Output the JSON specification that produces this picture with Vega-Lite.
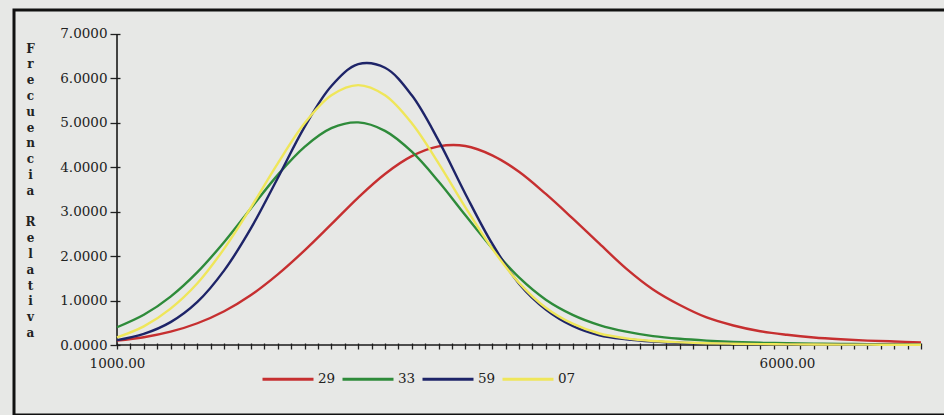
{
  "$schema": "https://vega.github.io/schema/vega-lite/v6.json",
  "width": 940,
  "height": 405,
  "autosize": "none",
  "padding": {"left": 14, "top": 10, "right": 0, "bottom": 0},
  "background": "#e7e8e6",
  "config": {"view": {"stroke": "#111111", "strokeWidth": 3}},
  "datasets": {
    "axes": [
      {"x": 1000, "x2": 7000, "y": 0, "y2": 0},
      {"x": 1000, "x2": 1000, "y": 0, "y2": 7}
    ],
    "curves": [
      {"serie": "29", "x": 1000, "y": 0.10}, {"serie": "29", "x": 1200, "y": 0.175}, {"serie": "29", "x": 1400, "y": 0.30}, {"serie": "29", "x": 1600, "y": 0.49}, {"serie": "29", "x": 1800, "y": 0.76}, {"serie": "29", "x": 2000, "y": 1.125}, {"serie": "29", "x": 2200, "y": 1.59}, {"serie": "29", "x": 2400, "y": 2.13}, {"serie": "29", "x": 2600, "y": 2.72}, {"serie": "29", "x": 2800, "y": 3.32}, {"serie": "29", "x": 3000, "y": 3.85}, {"serie": "29", "x": 3200, "y": 4.25}, {"serie": "29", "x": 3400, "y": 4.47}, {"serie": "29", "x": 3600, "y": 4.48}, {"serie": "29", "x": 3800, "y": 4.27}, {"serie": "29", "x": 4000, "y": 3.90}, {"serie": "29", "x": 4200, "y": 3.40}, {"serie": "29", "x": 4400, "y": 2.85}, {"serie": "29", "x": 4600, "y": 2.28}, {"serie": "29", "x": 4800, "y": 1.72}, {"serie": "29", "x": 5000, "y": 1.25}, {"serie": "29", "x": 5200, "y": 0.90}, {"serie": "29", "x": 5400, "y": 0.62}, {"serie": "29", "x": 5600, "y": 0.44}, {"serie": "29", "x": 5800, "y": 0.31}, {"serie": "29", "x": 6000, "y": 0.23}, {"serie": "29", "x": 6200, "y": 0.17}, {"serie": "29", "x": 6400, "y": 0.13}, {"serie": "29", "x": 6600, "y": 0.10}, {"serie": "29", "x": 6800, "y": 0.08}, {"serie": "29", "x": 7000, "y": 0.06},
      {"serie": "33", "x": 1000, "y": 0.40}, {"serie": "33", "x": 1200, "y": 0.68}, {"serie": "33", "x": 1400, "y": 1.09}, {"serie": "33", "x": 1600, "y": 1.64}, {"serie": "33", "x": 1800, "y": 2.32}, {"serie": "33", "x": 2000, "y": 3.08}, {"serie": "33", "x": 2200, "y": 3.83}, {"serie": "33", "x": 2400, "y": 4.46}, {"serie": "33", "x": 2600, "y": 4.88}, {"serie": "33", "x": 2800, "y": 5.01}, {"serie": "33", "x": 3000, "y": 4.82}, {"serie": "33", "x": 3200, "y": 4.35}, {"serie": "33", "x": 3400, "y": 3.68}, {"serie": "33", "x": 3600, "y": 2.92}, {"serie": "33", "x": 3800, "y": 2.18}, {"serie": "33", "x": 4000, "y": 1.52}, {"serie": "33", "x": 4200, "y": 1.02}, {"serie": "33", "x": 4400, "y": 0.68}, {"serie": "33", "x": 4600, "y": 0.45}, {"serie": "33", "x": 4800, "y": 0.30}, {"serie": "33", "x": 5000, "y": 0.20}, {"serie": "33", "x": 5200, "y": 0.14}, {"serie": "33", "x": 5400, "y": 0.10}, {"serie": "33", "x": 5600, "y": 0.07}, {"serie": "33", "x": 5800, "y": 0.05}, {"serie": "33", "x": 6000, "y": 0.04}, {"serie": "33", "x": 6200, "y": 0.03}, {"serie": "33", "x": 6400, "y": 0.025}, {"serie": "33", "x": 6600, "y": 0.02}, {"serie": "33", "x": 6800, "y": 0.015}, {"serie": "33", "x": 7000, "y": 0.01},
      {"serie": "59", "x": 1000, "y": 0.11}, {"serie": "59", "x": 1200, "y": 0.25}, {"serie": "59", "x": 1400, "y": 0.515}, {"serie": "59", "x": 1600, "y": 0.97}, {"serie": "59", "x": 1800, "y": 1.68}, {"serie": "59", "x": 2000, "y": 2.63}, {"serie": "59", "x": 2200, "y": 3.76}, {"serie": "59", "x": 2400, "y": 4.91}, {"serie": "59", "x": 2600, "y": 5.83}, {"serie": "59", "x": 2800, "y": 6.32}, {"serie": "59", "x": 3000, "y": 6.24}, {"serie": "59", "x": 3200, "y": 5.62}, {"serie": "59", "x": 3400, "y": 4.60}, {"serie": "59", "x": 3600, "y": 3.40}, {"serie": "59", "x": 3800, "y": 2.28}, {"serie": "59", "x": 4000, "y": 1.38}, {"serie": "59", "x": 4200, "y": 0.80}, {"serie": "59", "x": 4400, "y": 0.43}, {"serie": "59", "x": 4600, "y": 0.22}, {"serie": "59", "x": 4800, "y": 0.13}, {"serie": "59", "x": 5000, "y": 0.08}, {"serie": "59", "x": 5200, "y": 0.05}, {"serie": "59", "x": 5400, "y": 0.035}, {"serie": "59", "x": 5600, "y": 0.025}, {"serie": "59", "x": 5800, "y": 0.018}, {"serie": "59", "x": 6000, "y": 0.013}, {"serie": "59", "x": 6200, "y": 0.01}, {"serie": "59", "x": 6400, "y": 0.008}, {"serie": "59", "x": 6600, "y": 0.006}, {"serie": "59", "x": 6800, "y": 0.005}, {"serie": "59", "x": 7000, "y": 0.004},
      {"serie": "07", "x": 1000, "y": 0.17}, {"serie": "07", "x": 1200, "y": 0.42}, {"serie": "07", "x": 1400, "y": 0.82}, {"serie": "07", "x": 1600, "y": 1.39}, {"serie": "07", "x": 1800, "y": 2.17}, {"serie": "07", "x": 2000, "y": 3.10}, {"serie": "07", "x": 2200, "y": 4.09}, {"serie": "07", "x": 2400, "y": 4.99}, {"serie": "07", "x": 2600, "y": 5.62}, {"serie": "07", "x": 2800, "y": 5.85}, {"serie": "07", "x": 3000, "y": 5.62}, {"serie": "07", "x": 3200, "y": 4.99}, {"serie": "07", "x": 3400, "y": 4.09}, {"serie": "07", "x": 3600, "y": 3.10}, {"serie": "07", "x": 3800, "y": 2.17}, {"serie": "07", "x": 4000, "y": 1.40}, {"serie": "07", "x": 4200, "y": 0.84}, {"serie": "07", "x": 4400, "y": 0.48}, {"serie": "07", "x": 4600, "y": 0.26}, {"serie": "07", "x": 4800, "y": 0.15}, {"serie": "07", "x": 5000, "y": 0.09}, {"serie": "07", "x": 5200, "y": 0.06}, {"serie": "07", "x": 5400, "y": 0.04}, {"serie": "07", "x": 5600, "y": 0.03}, {"serie": "07", "x": 5800, "y": 0.02}, {"serie": "07", "x": 6000, "y": 0.015}, {"serie": "07", "x": 6200, "y": 0.012}, {"serie": "07", "x": 6400, "y": 0.01}, {"serie": "07", "x": 6600, "y": 0.008}, {"serie": "07", "x": 6800, "y": 0.007}, {"serie": "07", "x": 7000, "y": 0.006}
    ]
  },
  "encoding": {
    "x": {
      "field": "x", "type": "quantitative",
      "scale": {"domain": [231.3, 7246.2], "nice": false, "zero": false},
      "axis": {
        "values": [1000,1100,1200,1300,1400,1500,1600,1700,1800,1900,2000,2100,2200,2300,2400,2500,2600,2700,2800,2900,3000,3100,3200,3300,3400,3500,3600,3700,3800,3900,4000,4100,4200,4300,4400,4500,4600,4700,4800,4900,5000,5100,5200,5300,5400,5500,5600,5700,5800,5900,6000,6100,6200,6300,6400,6500,6600,6700,6800,6900,7000],
        "format": ".2f",
        "labelExpr": "datum.value == 1000 || datum.value == 6000 ? datum.label : ''",
        "labelOverlap": false,
        "labelFlush": false,
        "offset": -72,
        "domain": false,
        "grid": false,
        "tickSize": 6,
        "tickColor": "#222222",
        "tickWidth": 1.3,
        "labelFont": "DejaVu Serif",
        "labelFontSize": 13.5,
        "labelColor": "#222222",
        "labelPadding": 7,
        "title": null
      }
    },
    "y": {
      "field": "y", "type": "quantitative",
      "scale": {"domain": [-1.575, 7.54], "nice": false, "zero": false},
      "axis": {
        "values": [0, 1, 2, 3, 4, 5, 6, 7],
        "format": ".4f",
        "offset": -106,
        "domain": false,
        "grid": false,
        "tickSize": 10,
        "tickColor": "#222222",
        "tickWidth": 1.3,
        "labelFont": "DejaVu Serif",
        "labelFontSize": 13.5,
        "labelColor": "#222222",
        "labelPadding": 3,
        "title": ["F", "r", "e", "c", "u", "e", "n", "c", "i", "a", "\u200b", "R", "e", "l", "a", "t", "i", "v", "a"],
        "titleAngle": 0,
        "titleX": -90,
        "titleY": 38,
        "titleAlign": "center",
        "titleBaseline": "middle",
        "titleFont": "DejaVu Serif",
        "titleFontSize": 12,
        "titleFontWeight": "bold",
        "titleLineHeight": 15.8,
        "titleColor": "#222222"
      }
    }
  },
  "layer": [
    {
      "data": {"name": "axes"},
      "mark": {"type": "rule", "color": "#1a1a1a", "strokeWidth": 1.6},
      "encoding": {
        "x2": {"field": "x2"},
        "y2": {"field": "y2"}
      }
    },
    {
      "data": {"name": "curves"},
      "mark": {"type": "line", "interpolate": "catmull-rom", "strokeWidth": 2.4},
      "encoding": {
        "color": {
          "field": "serie", "type": "nominal",
          "scale": {"domain": ["29", "33", "59", "07"], "range": ["#c62f30", "#2e8b3a", "#1e2468", "#efe65a"]},
          "legend": {
            "orient": "none",
            "legendX": 247,
            "legendY": 342,
            "direction": "horizontal",
            "title": null,
            "symbolType": "stroke",
            "symbolSize": 2601,
            "symbolStrokeWidth": 3,
            "labelFont": "DejaVu Serif",
            "labelFontSize": 13.5,
            "labelColor": "#222222",
            "labelOffset": 3,
            "columnPadding": 0
          }
        }
      }
    }
  ]
}
